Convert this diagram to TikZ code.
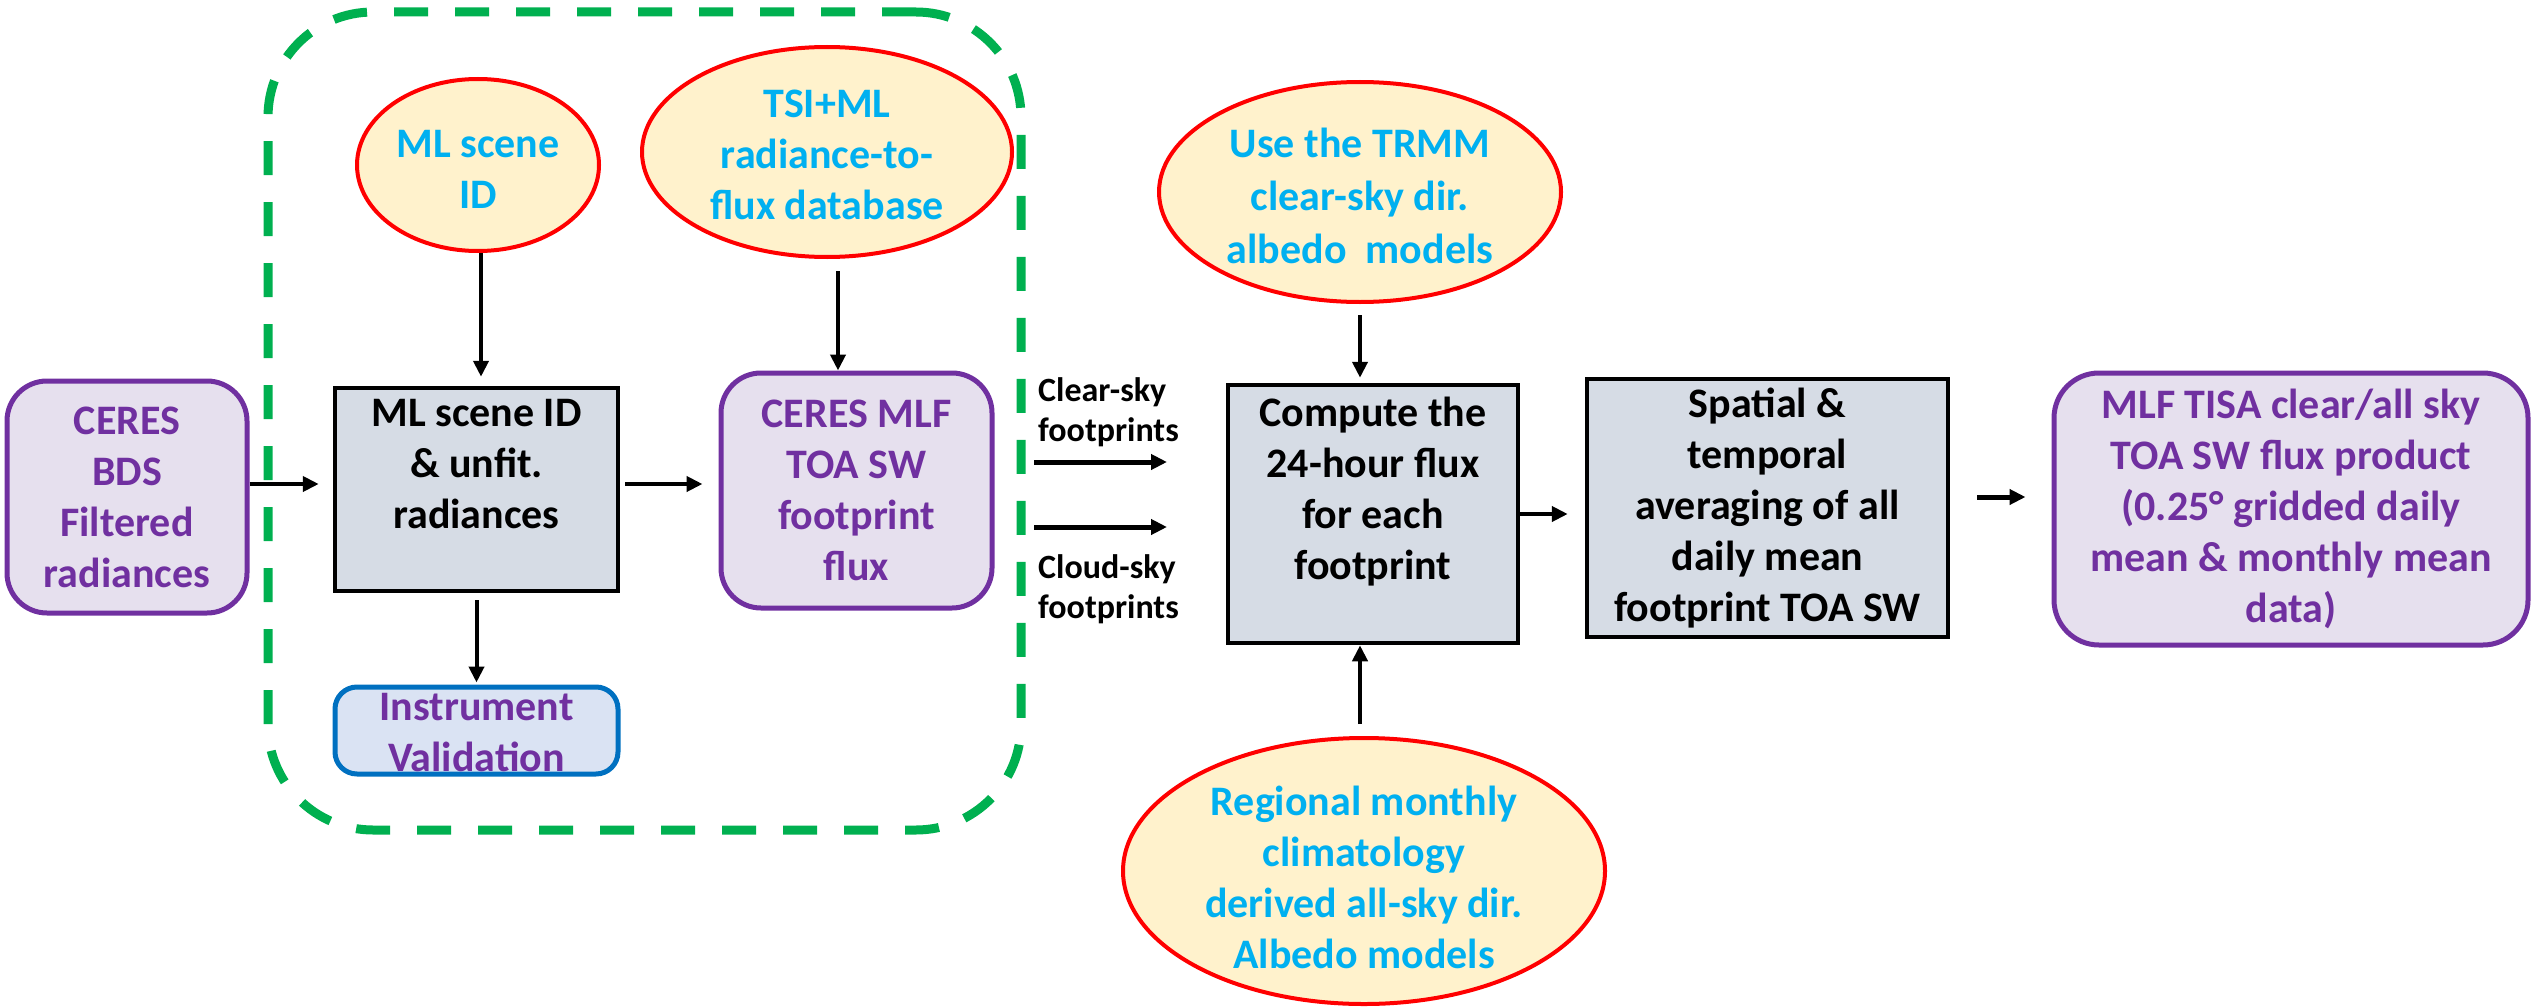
\documentclass[tikz,border=0pt]{standalone}
\usepackage{fontspec}
\setmainfont{Carlito}
\usetikzlibrary{shapes.geometric,arrows.meta,calc}
\definecolor{cpurple}{HTML}{7030A0}
\definecolor{ccyan}{HTML}{00B0F0}
\definecolor{cgreen}{HTML}{00B050}
\definecolor{cred}{HTML}{FF0000}
\definecolor{cyellow}{HTML}{FFF2CC}
\definecolor{cgray}{HTML}{D6DCE5}
\definecolor{clav}{HTML}{E6E0EE}
\definecolor{cblue}{HTML}{0070C0}
\definecolor{cltblue}{HTML}{DAE3F3}
\begin{document}
\begin{tikzpicture}[x=1pt,y=-1pt,
 font=\fontsize{42}{51}\selectfont\bfseries,
 purplebox/.style={draw=cpurple,fill=clav,line width=5pt,rounded corners=40pt,text=cpurple,align=center,inner sep=0pt},
 graybox/.style={draw=black,fill=cgray,line width=4.5pt,align=center,inner sep=0pt},
 oval/.style={ellipse,draw=cred,fill=cyellow,line width=4pt,inner sep=0pt},
 ovaltext/.style={text=ccyan,align=center,inner sep=0pt},
 arr/.style={line width=4pt,-{Triangle[length=16pt,width=15pt]}},
 smalltext/.style={font=\fontsize{34}{40}\selectfont\bfseries,align=left,inner sep=0pt,anchor=west}
]
\useasboundingbox (0,0) rectangle (2531,1006);

% dashed group
\node[draw=cgreen,line width=9pt,dash pattern=on 34pt off 27pt,rounded corners=105pt,
      minimum width=753pt,minimum height=818pt,inner sep=0pt] (grp) at (644.5,421) {};

% left part
\node[purplebox,minimum width=240pt,minimum height=232pt] (bds) at (127,497) {CERES\\BDS\\Filtered\\radiances};
\node[graybox,minimum width=283pt,minimum height=203pt] (ml) at (476.5,489.5) {ML scene ID\\\& unfit.\\radiances\\\mbox{}};
\node[purplebox,minimum width=271pt,minimum height=235pt] (mlf) at (856.5,490.5) {CERES MLF\\TOA SW\\footprint\\flux};
\node[draw=cblue,fill=cltblue,line width=5pt,rounded corners=22pt,inner sep=0pt,
      minimum width=283pt,minimum height=87pt] (inst) at (476.5,730.5) {};
\node[text=cpurple,align=center,inner sep=0pt] (instt) at (476.5,733) {Instrument\\Validation};

% ovals
\node[oval,minimum width=242pt,minimum height=172pt] (mlid) at (478,165) {};
\node[ovaltext] (mlidt) at (478,169) {ML scene\\ID};
\node[oval,minimum width=370pt,minimum height=210pt] (tsi) at (827,152) {};
\node[ovaltext] (tsit) at (827,155) {TSI+ML\\radiance-to-\\flux database};
\node[oval,minimum width=402pt,minimum height=220pt] (trmm) at (1360,192) {};
\node[ovaltext,font=\fontsize{42}{53}\selectfont\bfseries] (trmmt) at (1360,196) {Use the TRMM\\clear-sky dir.\\albedo\ \ models};
\node[oval,minimum width=482pt,minimum height=266pt] (reg) at (1364,871) {};
\node[ovaltext] (regt) at (1364,877) {Regional monthly\\climatology\\derived all-sky dir.\\Albedo models};

% right part
\node[graybox,minimum width=290pt,minimum height=258pt] (comp) at (1373,514) {Compute the\\24-hour flux\\for each\\footprint\\\mbox{}};
\node[graybox,minimum width=361pt,minimum height=258pt] (spat) at (1767.5,508) {Spatial \&\\temporal\\averaging of all\\daily mean\\footprint TOA SW};
\node[purplebox,rounded corners=45pt,minimum width=474pt,minimum height=272pt] (tisa) at (2291,509) {MLF TISA clear/all sky\\TOA SW flux product\\(0.25° gridded daily\\mean \& monthly mean\\data)};

% footprint labels and arrows
\node[smalltext] (cleart) at (1038,412) {Clear-sky\\footprints};
\node[smalltext] (cloudt) at (1038,589) {Cloud-sky\\footprints};
\coordinate (c1s) at (1034,462); \coordinate (c1e) at (1167,462);
\coordinate (c2s) at (1034,527); \coordinate (c2e) at (1167,527);
\draw[arr,line width=5pt] (c1s) -- (c1e);
\draw[arr,line width=5pt] (c2s) -- (c2e);

% connectors
\draw[arr,shorten >=14pt] ([yshift=13pt]bds.east) -- ([yshift=13pt]bds.east -| ml.west);
\draw[arr,shorten <=5pt,shorten >=16pt] ([yshift=5.5pt]ml.east) -- ([yshift=5.5pt]ml.east -| mlf.west);
\draw[arr,shorten >=9pt] ([xshift=3pt]mlid.south) -- ([xshift=3pt]mlid.south |- ml.north);
\draw[arr,shorten <=12pt] ([xshift=11pt]tsi.south) -- ([xshift=11pt]tsi.south |- mlf.north);
\draw[arr,shorten <=7pt,shorten >=2pt] (ml.south) -- (ml.south |- inst.north);
\draw[arr,shorten <=11pt,shorten >=5pt] (trmm.south) -- (trmm.south |- comp.north);
\draw[arr,shorten <=12pt] ([xshift=-4pt]reg.north) -- ([xshift=-4pt]reg.north |- comp.south);
\draw[arr,shorten >=17pt] (comp.east) -- (comp.east -| spat.west);
\draw[arr,line width=5pt,shorten <=27pt,shorten >=26pt] ([yshift=11pt]spat.east) -- ([yshift=11pt]spat.east -| tisa.west);
\end{tikzpicture}
\end{document}
